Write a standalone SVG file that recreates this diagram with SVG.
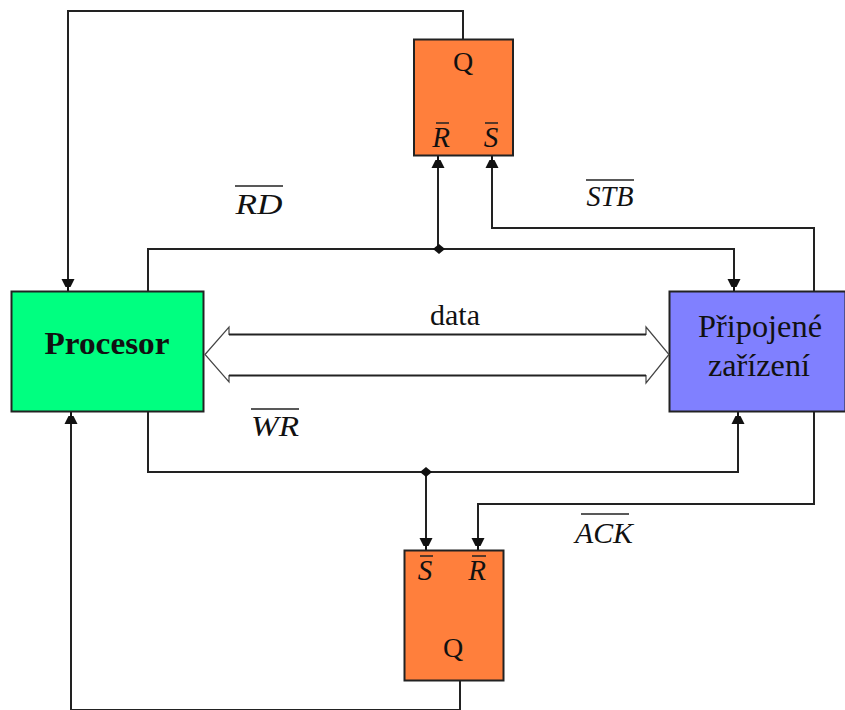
<svg xmlns="http://www.w3.org/2000/svg" width="845" height="710" viewBox="0 0 845 710">
<style>
.box{stroke:#222;stroke-width:2}
.ff{fill:#ff7f3c}
.t{font-family:"Liberation Serif",serif;fill:#111}
.i{font-style:italic;font-size:29px;text-anchor:middle}
.c{fill:none;stroke:#222;stroke-width:2}
.b{fill:#fff;stroke:#444;stroke-width:1.2}
.ov{stroke:#222;stroke-width:1.5}
</style>
<defs>
<marker id="a" markerUnits="userSpaceOnUse" markerWidth="14" markerHeight="14" refX="13" refY="7" orient="auto">
<path d="M1 0.500L9 4.500 9 9.500 1 13.500ZM9 6H13V8H9Z" fill="#111"/>
</marker>
</defs>
<g id="connectors">
<path class="c" d="M463 39V11H68V291" marker-end="url(#a)"/>
<path class="c" d="M148 291V249H734V291" marker-end="url(#a)"/>
<path class="c" d="M438 249V156" marker-end="url(#a)"/>
<path class="c" d="M814 291V228H492V156" marker-end="url(#a)"/>
<path class="c" d="M148 411V472H738V412" marker-end="url(#a)"/>
<path class="c" d="M426 472V550" marker-end="url(#a)"/>
<path class="c" d="M814 411V504H478V550" marker-end="url(#a)"/>
<path class="c" d="M460 681V710H71V412" marker-end="url(#a)"/>
<path d="M439 244L445 249 439 254 433 249Z" fill="#111"/>
<path d="M426 467L432 472 426 477 420 472Z" fill="#111"/>
</g>
<g id="procesor">
<rect class="box" x="11.500" y="291.500" width="192" height="120" fill="#00ff80"/>
<text class="t" x="107" y="354" font-size="32" font-weight="bold" text-anchor="middle" textLength="125" lengthAdjust="spacingAndGlyphs">Procesor</text>
</g>
<g id="zarizeni">
<rect class="box" x="669.500" y="291.500" width="176" height="120" fill="#8080ff"/>
<text class="t" x="760" y="337" font-size="32" text-anchor="middle" textLength="124" lengthAdjust="spacingAndGlyphs">Připojené</text>
<text class="t" x="759" y="376" font-size="32" text-anchor="middle" textLength="102" lengthAdjust="spacingAndGlyphs">zařízení</text>
</g>
<g id="data-bus">
<path class="b" d="M205 354.500L229 327V334.500H646V327L669 354.500 646 383V375.500H229V382Z"/>
<path d="M229 334.500H646M229 375.500H646" stroke="#222" stroke-width="2" fill="none"/>
<text class="t" x="455" y="325" font-size="30" text-anchor="middle">data</text>
</g>
<g id="ff-top">
<rect class="box ff" x="414" y="39.500" width="99" height="116"/>
<text class="t" x="463" y="71" font-size="28" text-anchor="middle">Q</text>
<text class="t i" x="441" y="147">R</text><path class="ov" d="M436 123H449"/>
<text class="t i" x="491" y="147">S</text><path class="ov" d="M485 123H498"/>
</g>
<g id="ff-bottom">
<rect class="box ff" x="404.500" y="550.500" width="99" height="130"/>
<text class="t" x="453" y="657" font-size="28" text-anchor="middle">Q</text>
<text class="t i" x="425" y="580">S</text><path class="ov" d="M420 556H433"/>
<text class="t i" x="477" y="580">R</text><path class="ov" d="M472 556H486"/>
</g>
<g id="labels">
<text class="t i" x="259" y="214" textLength="47" lengthAdjust="spacingAndGlyphs">RD</text><path class="ov" d="M235 186H283"/>
<text class="t i" x="610" y="206" textLength="47" lengthAdjust="spacingAndGlyphs">STB</text><path class="ov" d="M586 180H634"/>
<text class="t i" x="275" y="436" textLength="48" lengthAdjust="spacingAndGlyphs">WR</text><path class="ov" d="M251 409H299"/>
<text class="t i" x="604" y="543" textLength="58" lengthAdjust="spacingAndGlyphs">ACK</text><path class="ov" d="M581 514H629"/>
</g>
</svg>
